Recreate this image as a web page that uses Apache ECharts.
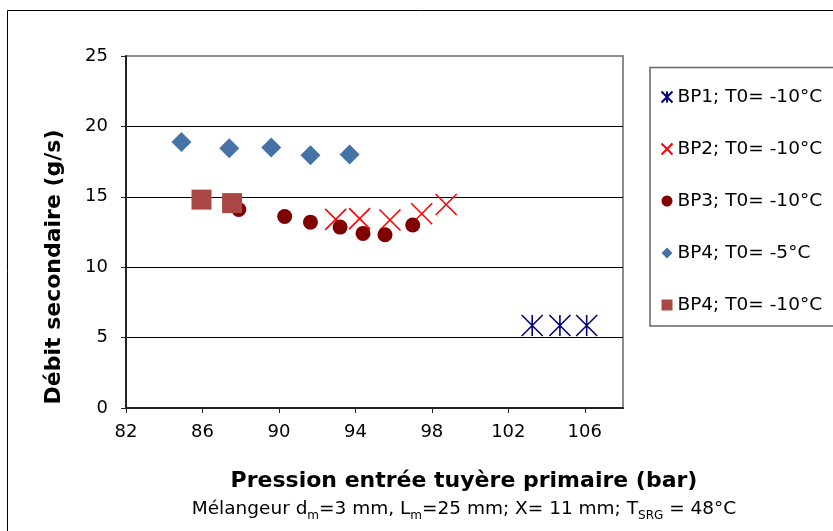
<!DOCTYPE html>
<html>
<head>
<meta charset="utf-8">
<script src="https://cdn.jsdelivr.net/npm/echarts@6/dist/echarts.min.js"></script>
<style>
html,body{margin:0;padding:0;background:#fff;}
#chart{width:833px;height:531px;}
</style>
</head>
<body>
<div id="chart"></div>
<script>
// ---- data ----
const xTicks = [82, 86, 90, 94, 98, 102, 106];
const yTicks = [0, 5, 10, 15, 20, 25];

const seriesNames = ['BP1; T0= -10°C', 'BP2; T0= -10°C', 'BP3; T0= -10°C', 'BP4; T0= -5°C', 'BP4; T0= -10°C'];

const bp1X = [103.25, 104.7, 106.1];
const bp1Y = [5.86, 5.86, 5.86];

const bp2X = [92.97, 94.22, 95.81, 97.47, 98.75];
const bp2Y = [13.4, 13.45, 13.35, 13.8, 14.45];

const bp3X = [87.9, 90.3, 91.65, 93.2, 94.4, 95.55, 97.0];
const bp3Y = [14.1, 13.6, 13.2, 12.85, 12.4, 12.3, 13.0];

const bp4aX = [84.9, 87.4, 89.6, 91.65, 93.7];
const bp4aY = [18.9, 18.45, 18.5, 17.95, 18.0];

const bp4bX = [85.95, 87.55];
const bp4bY = [14.8, 14.55];

const xTitle = 'Pression entrée tuyère primaire (bar)';
const yTitle = 'Débit secondaire (g/s)';

// ---- build ----
function pairs(xs, ys) { return xs.map((x, i) => [x, ys[i]]); }
const FONT = 'DejaVu Sans';

const chart = echarts.init(document.getElementById('chart'), null, {renderer: 'canvas'});
chart.setOption({
  animation: false,
  backgroundColor: '#fff',
  textStyle: {fontFamily: FONT, color: '#000'},
  grid: {
    left: 126, right: 210, top: 56, bottom: 123,
    show: true, borderColor: '#8c8c8c', borderWidth: 2,
    containLabel: false, outerBoundsMode: 'none'
  },
  xAxis: {
    type: 'value', min: 82, max: 108, interval: 4,
    axisLine: {show: true, onZero: false, lineStyle: {color: '#222', width: 2}},
    axisTick: {show: true, inside: false, length: 5, customValues: xTicks, lineStyle: {color: '#222', width: 1}},
    axisLabel: {show: true, margin: 15, fontSize: 18, color: '#000', fontFamily: FONT, customValues: xTicks},
    splitLine: {show: false}
  },
  yAxis: {
    type: 'value', min: 0, max: 25, interval: 5,
    axisLine: {show: true, lineStyle: {color: '#222', width: 2}},
    axisTick: {show: true, inside: false, length: 5, lineStyle: {color: '#222', width: 1}},
    axisLabel: {show: true, margin: 18, fontSize: 18, color: '#000', fontFamily: FONT, customValues: yTicks},
    splitLine: {show: true, showMinLine: false, showMaxLine: false, lineStyle: {color: '#000', width: 1}}
  },
  legend: {
    show: true, orient: 'vertical', left: 654, top: 81,
    itemWidth: 11, itemHeight: 11, itemGap: 30,
    selectedMode: false,
    itemStyle: {opacity: 1},
    textStyle: {fontSize: 18.5, color: '#000', fontFamily: FONT, lineHeight: 22},
    data: seriesNames
  },
  series: [
    {
      name: seriesNames[0], type: 'scatter', data: pairs(bp1X, bp1Y),
      symbol: 'path://M0,0L20,20M20,0L0,20M10,0L10,20', symbolSize: 21,
      itemStyle: {color: 'none', borderColor: '#000080', borderWidth: 1.6, opacity: 1},
      emphasis: {disabled: true}
    },
    {
      name: seriesNames[1], type: 'scatter', data: pairs(bp2X, bp2Y),
      symbol: 'path://M0,0L20,20M20,0L0,20', symbolSize: 21,
      itemStyle: {color: 'none', borderColor: '#FF0000', borderWidth: 1.6, opacity: 1},
      emphasis: {disabled: true}
    },
    {
      name: seriesNames[2], type: 'scatter', data: pairs(bp3X, bp3Y),
      symbol: 'circle', symbolSize: 15,
      itemStyle: {color: '#800000', opacity: 1},
      emphasis: {disabled: true}
    },
    {
      name: seriesNames[3], type: 'scatter', data: pairs(bp4aX, bp4aY),
      symbol: 'diamond', symbolSize: 20,
      itemStyle: {color: '#4572A7', opacity: 1},
      emphasis: {disabled: true}
    },
    {
      name: seriesNames[4], type: 'scatter', data: pairs(bp4bX, bp4bY),
      symbol: 'rect', symbolSize: 20,
      itemStyle: {color: '#AA4643', opacity: 1},
      emphasis: {disabled: true}
    }
  ],
  graphic: [
    {type: 'rect', z: -1, silent: true, shape: {x: 7.5, y: 10.5, width: 900, height: 600},
     style: {fill: 'none', stroke: '#000', lineWidth: 1}},
    {type: 'rect', z: -1, silent: true, shape: {x: 650, y: 67.5, width: 200, height: 258.5},
     style: {fill: '#fff', stroke: '#666', lineWidth: 1.5}},
    {type: 'text', silent: true, x: 464, y: 481,
     style: {text: xTitle, fontFamily: FONT, fontSize: 22, fontWeight: 'bold', fill: '#000', align: 'center', verticalAlign: 'middle'}},
    {type: 'text', silent: true, x: 54, y: 267, rotation: Math.PI / 2,
     style: {text: yTitle, fontFamily: FONT, fontSize: 22, fontWeight: 'bold', fill: '#000', align: 'center', verticalAlign: 'middle'}},
    {type: 'text', silent: true, x: 464, y: 509,
     style: {
       text: '{n|Mélangeur d}{s|m}{n|=3 mm, L}{s|m}{n|=25 mm; X= 11 mm; T}{s|SRG}{n| = 48°C}',
       align: 'center', verticalAlign: 'middle', fill: '#000',
       rich: {
         n: {fontFamily: FONT, fontSize: 18.5, lineHeight: 26, verticalAlign: 'middle', fill: '#000'},
         s: {fontFamily: FONT, fontSize: 12, lineHeight: 14, verticalAlign: 'bottom', fill: '#000'}
       }
     }}
  ]
});
</script>
</body>
</html>
